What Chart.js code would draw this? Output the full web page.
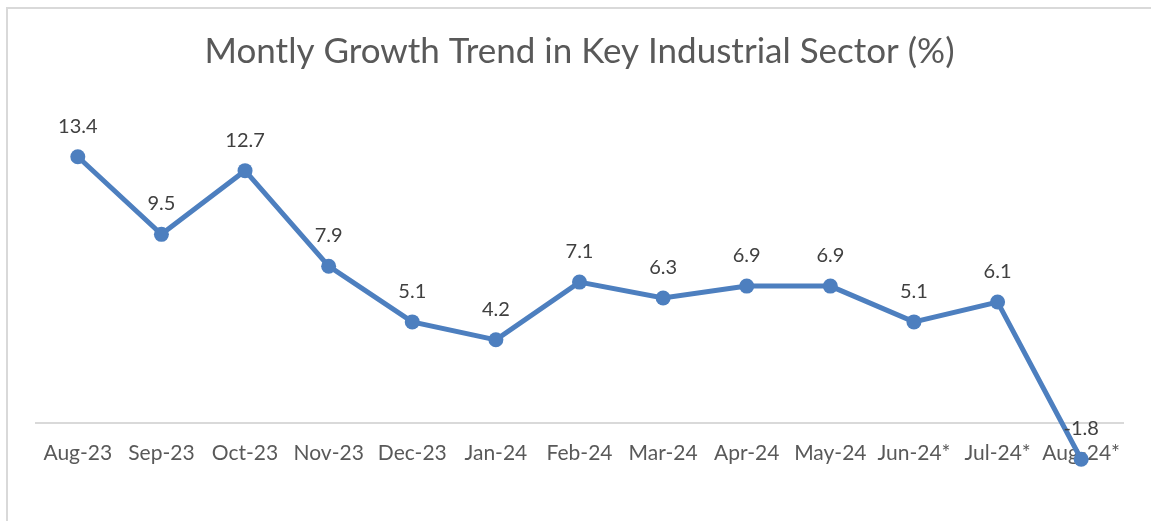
<!DOCTYPE html>
<html>
<head>
<meta charset="utf-8">
<script src="https://cdn.jsdelivr.net/npm/chart.js@4/dist/chart.umd.min.js"></script>
<style>
    html, body { margin: 0; padding: 0; background: #fff; overflow: hidden; }
    #frame { position: absolute; left: 6px; top: 7px; width: 1300px; height: 700px; border: 2px solid #d9d9d9; }
    #wrap { position: absolute; left: 0; top: 0; width: 1151px; height: 521px; }
</style>
</head>
<body>
<div id="frame"></div>
<div id="wrap"><canvas id="growthChart" width="1151" height="521"></canvas></div>
<script>
// ==================== DATA ====================

var months = ["Aug-23", "Sep-23", "Oct-23", "Nov-23", "Dec-23", "Jan-24", "Feb-24",
              "Mar-24", "Apr-24", "May-24", "Jun-24*", "Jul-24*", "Aug-24*"];
var growth = [13.4, 9.5, 12.7, 7.9, 5.1, 4.2, 7.1, 6.3, 6.9, 6.9, 5.1, 6.1, -1.8];

var lineColor = "#4d7fbf";

// Draws the value above each point (no datalabels plugin available offline)
var valueLabels = {
    id: "valueLabels",
    afterDatasetsDraw: function(chart) {
        var ctx = chart.ctx;
        var meta = chart.getDatasetMeta(0);
        ctx.save();
        ctx.font = "20px Lato, sans-serif";
        ctx.fillStyle = "#404040";
        ctx.textAlign = "center";
        ctx.textBaseline = "alphabetic";
        for (var i = 0; i < meta.data.length; i++) {
            var p = meta.data[i];
            ctx.fillText(growth[i].toFixed(1), p.x, p.y - 24);
        }
        ctx.restore();
    }
};

var ctx = document.getElementById("growthChart").getContext("2d");

new Chart(ctx, {
    type: "line",
    data: {
        labels: months,
        datasets: [{
            data: growth,
            borderColor: lineColor,
            backgroundColor: lineColor,
            borderWidth: 5,
            pointRadius: 7.5,
            pointBackgroundColor: lineColor,
            pointBorderColor: lineColor,
            pointBorderWidth: 0,
            tension: 0,
            clip: false
        }]
    },
    options: {
        responsive: false,
        animation: false,
        layout: {
            padding: { left: 36, right: 28, top: 0, bottom: 18 }
        },
        plugins: {
            legend: { display: false },
            tooltip: { enabled: false },
            title: {
                display: true,
                text: "Montly Growth Trend in Key Industrial Sector (%)",
                color: "#595959",
                font: { family: "Lato, sans-serif", size: 35, weight: "normal", lineHeight: 1.2 },
                padding: { top: 31, bottom: 32 }
            }
        },
        scales: {
            x: {
                position: { y: 0 },
                offset: true,
                grid: { display: false, drawTicks: false },
                border: { display: true, color: "#d9d9d9", width: 2 },
                ticks: {
                    color: "#595959",
                    padding: 17,
                    maxRotation: 0,
                    autoSkip: false,
                    font: { family: "Lato, sans-serif", size: 21 }
                }
            },
            y: {
                display: false,
                min: -4,
                max: 16
            }
        }
    },
    plugins: [valueLabels]
});
</script>
</body>
</html>
